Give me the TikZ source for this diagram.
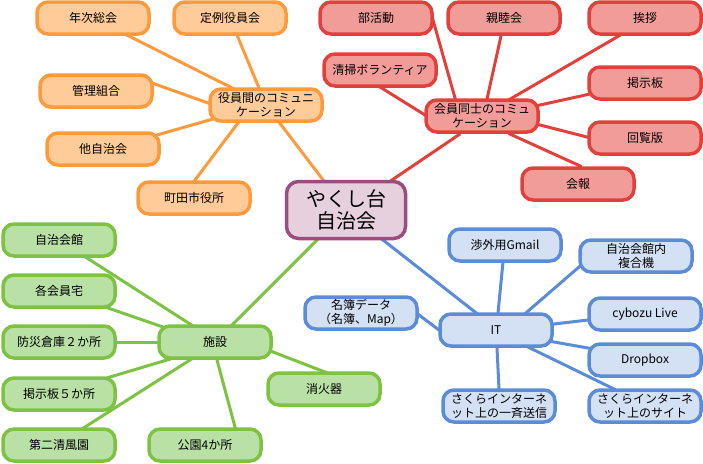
\documentclass[tikz,border=0pt]{standalone}
\usepackage{fontspec}
\setmainfont{Noto Sans CJK JP}
\usetikzlibrary{backgrounds}
\definecolor{obd}{HTML}{FF9A3C}\definecolor{ofl}{HTML}{FFCC99}
\definecolor{rbd}{HTML}{E2403A}\definecolor{rfl}{HTML}{F19C99}
\definecolor{gbd}{HTML}{7DC242}\definecolor{gfl}{HTML}{B9E0A5}
\definecolor{bbd}{HTML}{5A8CD8}\definecolor{bfl}{HTML}{D4E1F5}
\definecolor{pbd}{HTML}{9C4D80}\definecolor{pfl}{HTML}{E6D0DE}
\newcommand\lnk[5]{\draw[#1] ([shift={#3}]#2.center) -- ([shift={#5}]#4.center);}
\begin{document}
\begin{tikzpicture}[x=1pt,y=-1pt,
  box/.style={draw, rounded corners=11pt, line width=3.5pt, minimum width=112pt, minimum height=32pt, inner sep=1pt, align=center, font=\fontsize{12}{13.5}\selectfont},
  ob/.style={box, draw=obd, fill=ofl},
  rb/.style={box, draw=rbd, fill=rfl},
  gb/.style={box, draw=gbd, fill=gfl},
  bb/.style={box, draw=bbd, fill=bfl},
  edge/.style={line width=3pt, shorten <=-4pt, shorten >=-4pt},
  oe/.style={edge, draw=obd}, re/.style={edge, draw=rbd},
  ge/.style={edge, draw=gbd}, be/.style={edge, draw=bbd}]
\useasboundingbox (0,0) rectangle (703,463);
% centre
\node[box, draw=pbd, fill=pfl, minimum width=119pt, minimum height=57pt, rounded corners=12pt, font=\fontsize{20}{22}\selectfont] (c) at (346,210) {やくし台\\自治会};
% orange
\node[ob] (oh) at (266,105) {役員間のコミュニ\\ケーション};
\node[ob] (o1) at (93,18) {年次総会};
\node[ob] (o2) at (230,18) {定例役員会};
\node[ob] (o3) at (96,91) {管理組合};
\node[ob] (o4) at (103,149) {他自治会};
\node[ob] (o5) at (194,198) {町田市役所};
% red
\node[rb] (rh) at (482,116) {会員同士のコミュ\\ケーション};
\node[rb] (r1) at (376,18) {部活動};
\node[rb] (r2) at (504,18) {親睦会};
\node[rb] (r3) at (645,18) {挨拶};
\node[rb] (r4) at (380,70) {清掃ボランティア};
\node[rb] (r5) at (645,83) {掲示板};
\node[rb] (r6) at (645,138) {回覧版};
\node[rb] (r7) at (578,184) {会報};
% green
\node[gb] (gh) at (215,342) {施設};
\node[gb] (g1) at (59,240) {自治会館};
\node[gb] (g2) at (59,291) {各会員宅};
\node[gb] (g3) at (59,342) {防災倉庫２か所};
\node[gb] (g4) at (59,394) {掲示板５か所};
\node[gb] (g5) at (59,445) {第二清風園};
\node[gb] (g6) at (324,389) {消火器};
\node[gb] (g7) at (205,445) {公園4か所};
% blue
\node[bb] (bh) at (496,330) {IT};
\node[bb] (b1) at (505,245) {渉外用Gmail};
\node[bb] (b2) at (636,256) {自治会館内\\複合機};
\node[bb] (b3) at (361,313) {名簿データ\\（名簿、Map）};
\node[bb] (b4) at (645,314) {cybozu Live};
\node[bb] (b5) at (645,360) {Dropbox};
\node[bb] (b6) at (499,406) {さくらインターネ\\ット上の一斉送信};
\node[bb] (b7) at (645,406) {さくらインターネ\\ット上のサイト};
\begin{scope}[on background layer]
\lnk{oe}{c}{(0,0)}{oh}{(0,0)}
\lnk{oe}{o1}{(0,0)}{oh}{(0,0)}
\lnk{oe}{o2}{(0,0)}{oh}{(0,0)}
\lnk{oe}{o3}{(56,-8)}{oh}{(-58,-2)}
\lnk{oe}{o4}{(54,-14)}{oh}{(-53,14)}
\lnk{oe}{o5}{(1,-18)}{oh}{(-28,18)}
\lnk{re}{c}{(46,-30)}{rh}{(-25,20)}
\lnk{re}{r1}{(57,2)}{rh}{(-27,-18)}
\lnk{re}{r2}{(-3,18)}{rh}{(5,-17)}
\lnk{re}{r3}{(-28,19)}{rh}{(30,-18)}
\lnk{re}{r4}{(0,17)}{rh}{(-57,-1)}
\lnk{re}{r5}{(-55,11)}{rh}{(58,-11)}
\lnk{re}{r6}{(-58,-1)}{rh}{(58,9)}
\lnk{re}{r7}{(0,-19)}{rh}{(30,19)}
\lnk{ge}{c}{(-29,30)}{gh}{(18,-18)}
\lnk{ge}{g1}{(28,18)}{gh}{(-25,-18)}
\lnk{ge}{g2}{(49,17)}{gh}{(-52,-15)}
\lnk{ge}{g3}{(58,0)}{gh}{(-57,0)}
\lnk{ge}{g4}{(51,-17)}{gh}{(-48,18)}
\lnk{ge}{g5}{(26,-18)}{gh}{(-25,18)}
\lnk{ge}{g6}{(1,-17)}{gh}{(58,10)}
\lnk{ge}{g7}{(30,-18)}{gh}{(2,18)}
\lnk{be}{c}{(37,30)}{bh}{(-21,-18)}
\lnk{be}{b1}{(-2,17)}{bh}{(2,-17)}
\lnk{be}{b2}{(-57,11)}{bh}{(31,-18)}
\lnk{be}{b3}{(58,2)}{bh}{(-57,0)}
\lnk{be}{b4}{(-57,6)}{bh}{(58,-6)}
\lnk{be}{b5}{(-57,-12)}{bh}{(58,12)}
\lnk{be}{b6}{(0,-17)}{bh}{(1,18)}
\lnk{be}{b7}{(-33,-18)}{bh}{(34,18)}
\end{scope}
\end{tikzpicture}
\end{document}
